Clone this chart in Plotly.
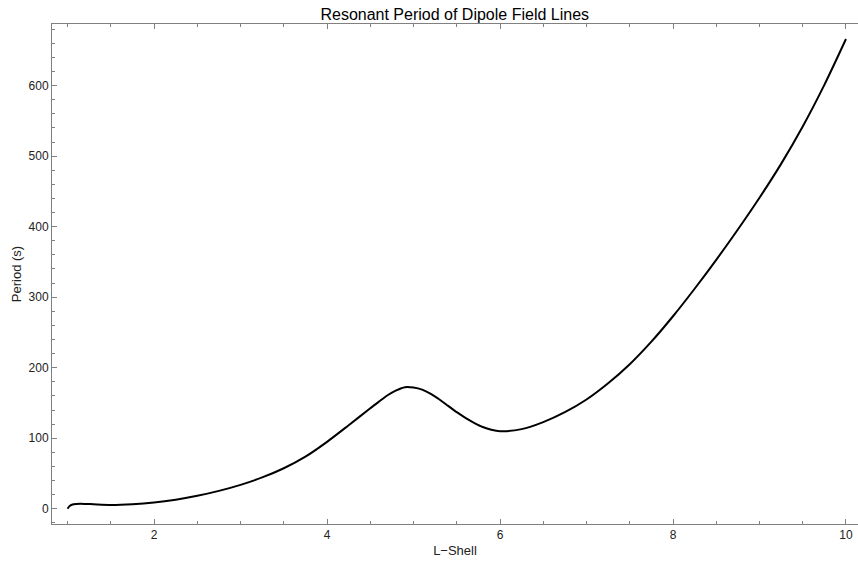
import plotly.graph_objects as go

# Data
l_shell = [1.0, 1.02, 1.05, 1.1, 1.2, 1.3, 1.5, 1.75, 2.0, 2.25, 2.5, 2.75, 3.0, 3.25,
           3.5, 3.75, 4.0, 4.25, 4.5, 4.6, 4.7, 4.8, 4.9, 5.0, 5.1, 5.2, 5.3, 5.4,
           5.5, 5.6, 5.7, 5.8, 5.9, 6.0, 6.25, 6.5, 6.75, 7.0, 7.25, 7.5,
           7.75, 8.0, 8.25, 8.5, 8.75, 9.0, 9.25, 9.5, 9.75, 10.0]
period = [0, 3.5, 5.8, 6.9, 7.0, 6.5, 5.6, 6.6, 9, 13, 18.5, 25.5, 34, 44.5,
          57.5, 74, 95, 118.5, 142.5, 152, 161, 168, 172.5, 172, 169, 163, 155, 146,
          137, 129, 122, 116, 112, 110, 113, 123, 137, 155, 178, 205,
          237, 273, 312, 353, 396, 441, 489, 542, 601, 666]

x_ticks = [2, 4, 6, 8, 10]
y_ticks = [0, 100, 200, 300, 400, 500, 600]

fig = go.Figure()
fig.add_trace(go.Scatter(x=l_shell, y=period, mode="lines",
                         line=dict(color="black", width=2, shape="spline", smoothing=0.8),
                         showlegend=False, hoverinfo="skip"))

axis_common = dict(
    showgrid=False, zeroline=False, showline=True, linecolor="#808080", linewidth=1,
    ticks="inside", ticklen=5, tickwidth=1, tickcolor="#808080",
    tickfont=dict(family="Liberation Sans, Arial, sans-serif", size=12, color="#222"),
    title_font=dict(family="Liberation Sans, Arial, sans-serif", size=13, color="#222"),
)

fig.update_layout(
    width=858, height=562,
    margin=dict(l=52, r=0, t=24, b=38),
    paper_bgcolor="white", plot_bgcolor="white",
    title=dict(text="Resonant Period of Dipole Field Lines", x=0.53, xanchor="center",
               y=0.985, yanchor="top",
               font=dict(family="Liberation Sans, Arial, sans-serif", size=16, color="black")),
    xaxis=dict(axis_common, range=[0.82, 10.139], tickvals=x_ticks, mirror="ticks",
               title=dict(text="L\u2212Shell", standoff=4),
               minor=dict(dtick=0.5, tick0=0, ticks="inside", ticklen=3, tickcolor="#808080")),
    yaxis=dict(axis_common, range=[-21.5, 687.3], tickvals=y_ticks, mirror=False,
               title=dict(text="Period (s)", standoff=4),
               minor=dict(dtick=20, tick0=0, ticks="inside", ticklen=3, tickcolor="#808080")),
)

fig.write_html("out.html")
